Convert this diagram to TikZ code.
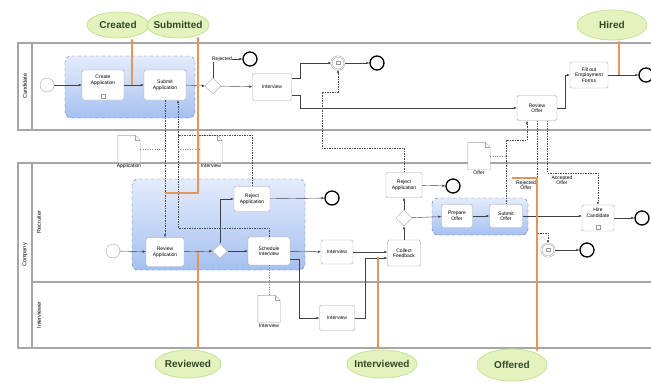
\documentclass[tikz,border=0pt]{standalone}
\usepackage{fontspec}
\setmainfont{Liberation Sans}
\usetikzlibrary{arrows.meta,shapes.geometric}

\definecolor{msorange}{RGB}{228,150,90}
\definecolor{msfill}{RGB}{228,243,190}
\definecolor{msdraw}{RGB}{198,224,150}
\definecolor{mstext}{RGB}{50,72,40}
\definecolor{grpblue}{RGB}{80,105,160}
\definecolor{grptop}{RGB}{228,236,252}
\definecolor{grpbot}{RGB}{165,192,240}

\tikzset{
  task/.style={draw=gray!70, fill=white, rounded corners=1.5pt, inner sep=0pt, align=center, font=\fontsize{5}{5.5}\selectfont},
  startev/.style={circle, draw=gray!70, fill=white, minimum size=14pt, inner sep=0pt},
  endev/.style={circle, draw=black, line width=1.3pt, fill=white, minimum size=14pt, inner sep=0pt},
  midev/.style={circle, draw=gray!80, double=white, double distance=0.8pt, fill=white, minimum size=13pt, inner sep=0pt},
  gway/.style={diamond, draw=gray!70, fill=white, minimum size=16pt, inner sep=0pt},
  grp/.style={draw=grpblue, dashed, rounded corners=6pt, top color=grptop, bottom color=grpbot},
  pool/.style={draw=gray!70, line width=1.1pt},
  flow/.style={-{Latex[length=3pt,width=2.5pt]}, black!75, line width=0.4pt},
  msg/.style={-{Latex[length=3pt,width=2.5pt]}, gray!60!black, line width=0.4pt, dash pattern=on 1.5pt off 1pt},
  assoc/.style={gray, line width=0.4pt, dotted},
  mline/.style={draw=msorange, line width=1.3pt, -{Latex[length=3pt,width=3.5pt]}},
  milestone/.style={ellipse, draw=msdraw, fill=msfill, line width=0.8pt, minimum width=62pt, minimum height=26pt, inner sep=0pt},
  mstext/.style={text=mstext, font=\bfseries\fontsize{10}{11}\selectfont},
  dobj/.style={minimum width=22pt, minimum height=27pt, inner sep=0pt},
  tinytext/.style={font=\fontsize{5}{5.5}\selectfont, align=center, inner sep=0.5pt},
  lanelabel/.style={rotate=90, font=\fontsize{5.5}{6}\selectfont},
  marker/.style={draw=gray!80, fill=white, minimum size=4pt, inner sep=0pt}
}

% data object with folded corner
\newcommand{\docfold}[1]{%
  \draw[gray!70, fill=white] (#1.south west) -- (#1.north west) -- ([xshift=-5pt]#1.north east)
    -- ([yshift=-5pt]#1.north east) -- (#1.south east) -- cycle;
  \draw[gray!70] ([xshift=-5pt]#1.north east) |- ([yshift=-5pt]#1.north east);}

\begin{document}
\begin{tikzpicture}[x=1pt,y=-1pt]
  \fill[white] (0,0) rectangle (651,383);
  \clip (0,0) rectangle (651,383);

  % Pools and lanes
  \draw[pool] (18,43) rectangle (660,130);
  \draw[pool] (32,43) -- (32,130);
  \draw[pool] (18,163) rectangle (660,348);
  \draw[pool] (32,163) -- (32,348);
  \draw[pool] (32,282) -- (660,282);
  \node[lanelabel] (candLbl) at (25,86) {Candidate};
  \node[lanelabel] (compLbl) at (25,255) {Company};
  \node[lanelabel] (recrLbl) at (39,222) {Recruiter};
  \node[lanelabel] (intrLbl) at (39,315) {Interviewer};

  % Groups
  \draw[grp] (65,56) rectangle (195,118);
  \draw[grp] (132,179) rectangle (305,270);
  \draw[grp] (432,198) rectangle (528,235);

  % Candidate
  \node[startev] (startC) at (47,85) {};
  \node[task, minimum width=42pt, minimum height=30pt] (createApp) at (103,85) {Create\\Application\\[5pt]};
  \node[marker] (createMk) at ([yshift=4.5pt]createApp.south) {};
  \node[task, minimum width=42pt, minimum height=30pt] (submitApp) at (165,85) {Submit\\Application};
  \node[gway] (gwC) at (213,86) {};
  \node[endev] (endRej) at (250,59) {};
  \node[task, minimum width=39pt, minimum height=27pt] (intvC) at (272,87) {Interview};
  \node[midev] (evC) at (338,63) {};
  \node[endev] (endC) at (377,63) {};
  \node[task, minimum width=40pt, minimum height=25pt] (reviewOffer) at (537,108) {Review\\Offer};
  \node[task, minimum width=38pt, minimum height=26pt] (fillForms) at (589,75) {Fill out\\Employment\\Forms};
  \node[endev] (endHired) at (646,75) {};

  \draw[flow] (startC) -- (createApp);
  \draw[flow] (createApp) -- (submitApp);
  \draw[flow] (submitApp) -- (gwC);
  \draw[flow] (gwC.north) |- (endRej);
  \node[tinytext, fill=white] (rejLbl) at (222,59) {Rejected};
  \draw[flow] (gwC) -- (intvC);
  \draw[flow] ([yshift=9pt]intvC.east) -- ++(8,0) |- (evC);
  \draw[flow] (evC) -- (endC);
  \draw[flow] ([yshift=-8pt]intvC.east) -- ++(8,0) |- (reviewOffer);
  \draw[flow] (reviewOffer.east) -- ++(8,0) |- (fillForms);
  \draw[flow] (fillForms) -- (endHired);

  % Recruiter
  \node[startev] (startR) at (113,251) {};
  \node[task, minimum width=38pt, minimum height=29pt] (reviewApp) at (165,252) {Review\\Application};
  \node[gway, minimum size=15pt] (gwR) at (220,251) {};
  \node[task, minimum width=36pt, minimum height=25pt] (rejApp1) at (252,199) {Reject\\Application};
  \node[task, minimum width=42pt, minimum height=28pt] (schedInt) at (269,251) {Schedule\\Interview};
  \node[endev] (endR1) at (332,198) {};
  \node[task, minimum width=32pt, minimum height=24pt] (intvR) at (337,252) {Interview};
  \node[task, minimum width=33pt, minimum height=26pt] (collFb) at (404,253) {Collect\\Feedback};
  \node[gway] (gwR2) at (404,218) {};
  \node[task, minimum width=36pt, minimum height=25pt] (rejApp2) at (404,185) {Reject\\Application};
  \node[endev] (endR2) at (453,186) {};
  \node[task, minimum width=31pt, minimum height=23pt] (prepOffer) at (457,216) {Prepare\\Offer};
  \node[task, minimum width=33pt, minimum height=23pt] (subOffer) at (506,216) {Submit\\Offer};
  \node[task, minimum width=32pt, minimum height=26pt] (hireCand) at (598,218) {Hire\\Candidate\\[5pt]};
  \node[marker] (hireMk) at ([yshift=4.5pt]hireCand.south) {};
  \node[endev] (endR3) at (642,218) {};
  \node[midev] (evR) at (548,250) {};
  \node[endev] (endR4) at (587,250) {};

  % Interviewer
  \node[task, minimum width=35pt, minimum height=25pt] (intvI) at (337,318) {Interview};

  \foreach \ev in {evC,evR}
    \draw[gray!80, line width=0.3pt] ([shift={(-2.2pt,-1.5pt)}]\ev.center) rectangle ([shift={(2.2pt,1.5pt)}]\ev.center);

  \draw[flow] (startR) -- (reviewApp);
  \draw[flow] (reviewApp) -- (gwR);
  \draw[flow] (gwR.north) |- (rejApp1);
  \draw[flow] (gwR) -- (schedInt);
  \draw[flow] (rejApp1) -- (endR1);
  \draw[flow] (schedInt) -- (intvR);
  \draw[flow] ([yshift=-8pt]schedInt.east) -- ++(9,0) |- (intvI);
  \draw[flow] (intvR) -- (intvR -| collFb.west);
  \draw[flow] (intvI.east) -- ++(10,0) |- ([yshift=-5pt]collFb.west);
  \draw[flow] (collFb) -- (gwR2);
  \draw[flow] (gwR2) -- (rejApp2);
  \draw[flow] (rejApp2) -- (endR2);
  \draw[flow] (gwR2) -- (prepOffer);
  \draw[flow] (prepOffer) -- (subOffer);
  \draw[flow] (subOffer) -- (subOffer -| hireCand.west);
  \draw[flow] (hireCand) -- (endR3);
  \draw[flow] (evR) -- (endR4);

  % Data objects
  \node[dobj, label={[tinytext]below:Application}] (appDoc) at (129,149) {};
  \node[dobj, label={[tinytext]below:Interview}] (intDoc) at (211,149) {};
  \node[dobj, label={[tinytext]below:Offer}] (offerDoc) at (479,156) {};
  \node[dobj, label={[tinytext]below:Interview}] (notesDoc) at (269,309) {};
  \docfold{appDoc}
  \docfold{intDoc}
  \docfold{offerDoc}
  \docfold{notesDoc}

  % Message flows
  \coordinate (mJoin) at (178,135);
  \coordinate (m4a) at (322,148);
  \coordinate (m4b) at (322,92);
  \draw[msg] (submitApp.south) -- (reviewApp.north);
  \draw[msg] (schedInt.north) -- ++(0,-9) -| ([xshift=13pt]submitApp.south);
  \draw[msg, -] (rejApp1.north) |- (mJoin);
  \draw[msg] (rejApp2.north) |- (m4a) -- (m4b) -| (evC.south);
  \draw[msg] (subOffer.north) -- ++(0,-64) -| ([xshift=-10pt]reviewOffer.south);
  \draw[msg] (reviewOffer.south) -- ++(0,112) -| (evR.north);
  \draw[msg] ([xshift=10pt]reviewOffer.south) -- ++(0,52) -| (hireCand.north);
  \node[tinytext] (rejOffLbl) at (526,185) {Rejected\\Offer};
  \node[tinytext] (accOffLbl) at (562,180) {Accepted\\Offer};

  % Associations
  \draw[assoc] (appDoc.east) -- (appDoc.east -| submitApp.south);
  \draw[assoc] (intDoc.west) -- (intDoc.west -| mJoin);
  \draw[assoc] (offerDoc.east) -- (offerDoc.east -| subOffer.north);
  \draw[assoc] (schedInt.south) -- (notesDoc.north);

  % Milestones
  \node[milestone, label={[mstext]center:Created}] (created) at (118,25) {};
  \node[milestone, label={[mstext]center:Submitted}] (submitted) at (178,25) {};
  \node[milestone, minimum width=70pt, minimum height=30pt, label={[mstext]center:Hired}] (hired) at (612,25) {};
  \node[milestone, minimum width=66pt, minimum height=28pt, label={[mstext]center:Reviewed}] (reviewed) at (188,364) {};
  \node[milestone, minimum width=70pt, minimum height=28pt, label={[mstext]center:Interviewed}] (interviewed) at (382,364) {};
  \node[milestone, minimum width=70pt, minimum height=32pt, label={[mstext]center:Offered}] (offered) at (512,365) {};

  \coordinate (createdPt) at (132,85);
  \coordinate (submittedPt) at (165,193);
  \coordinate (hiredPt) at (619,75);
  \coordinate (reviewedPt) at (198,252);
  \coordinate (interviewedPt) at (378,257);
  \coordinate (offeredPt) at (512,178);
  \draw[mline] (createdPt) -- (createdPt |- created.south);
  \draw[mline] (submittedPt) -| ([xshift=20pt,yshift=2pt]submitted.south);
  \draw[mline] (hiredPt) -- (hiredPt |- hired.south);
  \draw[mline] (reviewedPt) -- (reviewedPt |- reviewed.north);
  \draw[mline] (interviewedPt) -- (interviewedPt |- interviewed.north);
  \draw[mline] (offeredPt) -| ([xshift=25pt,yshift=-3pt]offered.north);
\end{tikzpicture}
\end{document}
